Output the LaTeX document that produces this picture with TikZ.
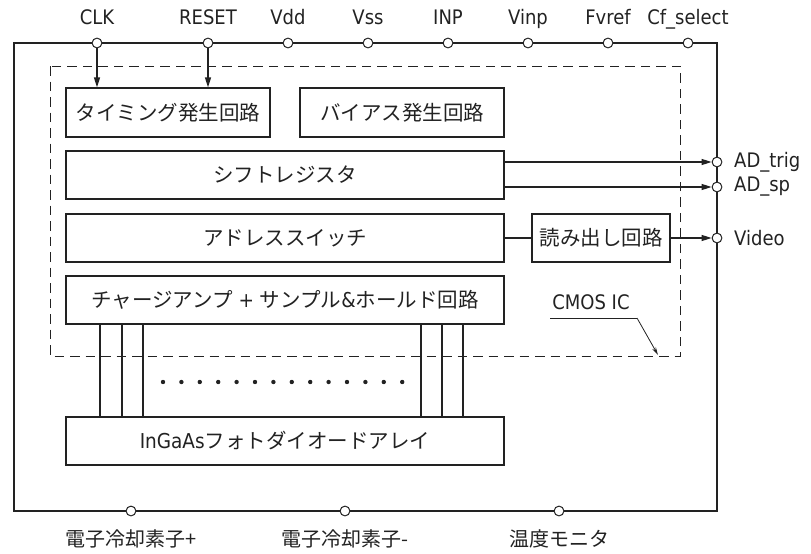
\documentclass[tikz,border=0pt]{standalone}
\usepackage{fontspec}
\setmainfont{Noto Sans CJK JP}
\newfontfamily\latin{DejaVu Sans Condensed}
\usetikzlibrary{arrows.meta,calc}
\definecolor{ink}{HTML}{222222}
\tikzset{
  lbl/.style={font=\latin\fontsize{20}{24}\selectfont, text=ink, inner sep=0pt},
  jlbl/.style={font=\fontsize{20}{24}\selectfont, text=ink, inner sep=0pt},
  blockbox/.style={draw=ink, line width=1.2pt, rectangle, inner sep=0pt, font=\fontsize{20.5}{24}\selectfont, text=ink},
  pin/.style={draw=ink, fill=white, circle, line width=1pt, minimum size=9.8pt, inner sep=0pt},
  wire/.style={draw=ink, line width=1.2pt},
  sig/.style={wire, -{Triangle[length=10pt,width=6pt]}},
  leader/.style={draw=ink, line width=0.8pt, -{Stealth[length=8pt,width=4pt]}}
}
\newcommand{\lt}[1]{{\latin\fontsize{20.5}{24}\selectfont #1}}
\begin{document}
\begin{tikzpicture}[x=1pt,y=-1pt]
\useasboundingbox (0,0) rectangle (811,554);

% package outline and CMOS IC region
\draw[wire] (14,43) rectangle (717,511);
\draw[draw=ink, line width=1pt, dash pattern=on 9.5pt off 6pt] (50,66) rectangle (680,356);

% circuit blocks
\node[blockbox, minimum width=204pt, minimum height=49pt] (tim) at (168,112.5) {タイミング発生回路};
\node[blockbox, minimum width=204pt, minimum height=49pt] (bias) at (402,112.5) {バイアス発生回路};
\node[blockbox, minimum width=438pt, minimum height=48pt] (sr) at (285,175) {シフトレジスタ};
\node[blockbox, minimum width=438pt, minimum height=48pt] (asw) at (285,238) {アドレススイッチ};
\node[blockbox, minimum width=138pt, minimum height=48pt] (ro) at (601,238) {読み出し回路};
\node[blockbox, minimum width=438pt, minimum height=48pt] (ca) at (285,300) {チャージアンプ\lt{\ +\ }サンプル\lt{\&}ホールド回路};
\node[blockbox, minimum width=438pt, minimum height=48pt] (pd) at (285,441) {\lt{InGaAs}フォトダイオードアレイ};

% pixel interconnects between the diode array and the amplifiers
\foreach \x in {100,122,143,421,442,463}
  \draw[wire] (\x,0 |- ca.south) -- (\x,0 |- pd.north);
\foreach \i in {0,...,13}
  \fill[ink] ({163+\i*18.4},382) circle (2.2pt);

% top pins
\foreach \n/\x/\t in {clk/97/CLK, rst/208/RESET, vdd/288/Vdd, vss/368/Vss, inp/448/INP, vinp/528/Vinp, fv/608/Fvref, cf/688/Cf\_select}{
  \node[pin] (p\n) at (\x,43) {};
  \node[lbl, anchor=base] (l\n) at (\x,24.5) {\t};
}
\draw[sig] (pclk) -- (pclk |- tim.north);
\draw[sig] (prst) -- (prst |- tim.north);

% right-side outputs
\node[pin] (ptrig) at (717,162) {};
\node[pin] (psp) at (717,187) {};
\node[pin] (pvid) at (717,238) {};
\node[lbl, anchor=west] (ltrig) at (734,162) {AD\_trig};
\node[lbl, anchor=west] (lsp) at (734,187) {AD\_sp};
\node[lbl, anchor=west] (lvid) at (734,238) {Video};
\coordinate (trigS) at (sr.east |- ptrig);
\coordinate (spS) at (sr.east |- psp);
\draw[sig] (trigS) -- (ptrig);
\draw[sig] (spS) -- (psp);
\draw[wire] (asw.east) -- (ro.west);
\draw[sig] (ro.east) -- (pvid);

% CMOS IC callout
\node[lbl] (cmos) at (591,302) {CMOS IC};
\coordinate (cmosL) at (550,318);
\coordinate (cmosR) at (637,318);
\coordinate (cmosT) at (658,355);
\draw[draw=ink, line width=0.8pt] (cmosL) -- (cmosR);
\draw[leader] (cmosR) -- (cmosT);

% bottom pins
\foreach \n/\x/\t in {tp/131/電子冷却素子+, tm/345/電子冷却素子-, tmon/559/温度モニタ}{
  \node[pin] (p\n) at (\x,511) {};
  \node[jlbl] (l\n) at (\x,539) {\t};
}
\end{tikzpicture}
\end{document}
